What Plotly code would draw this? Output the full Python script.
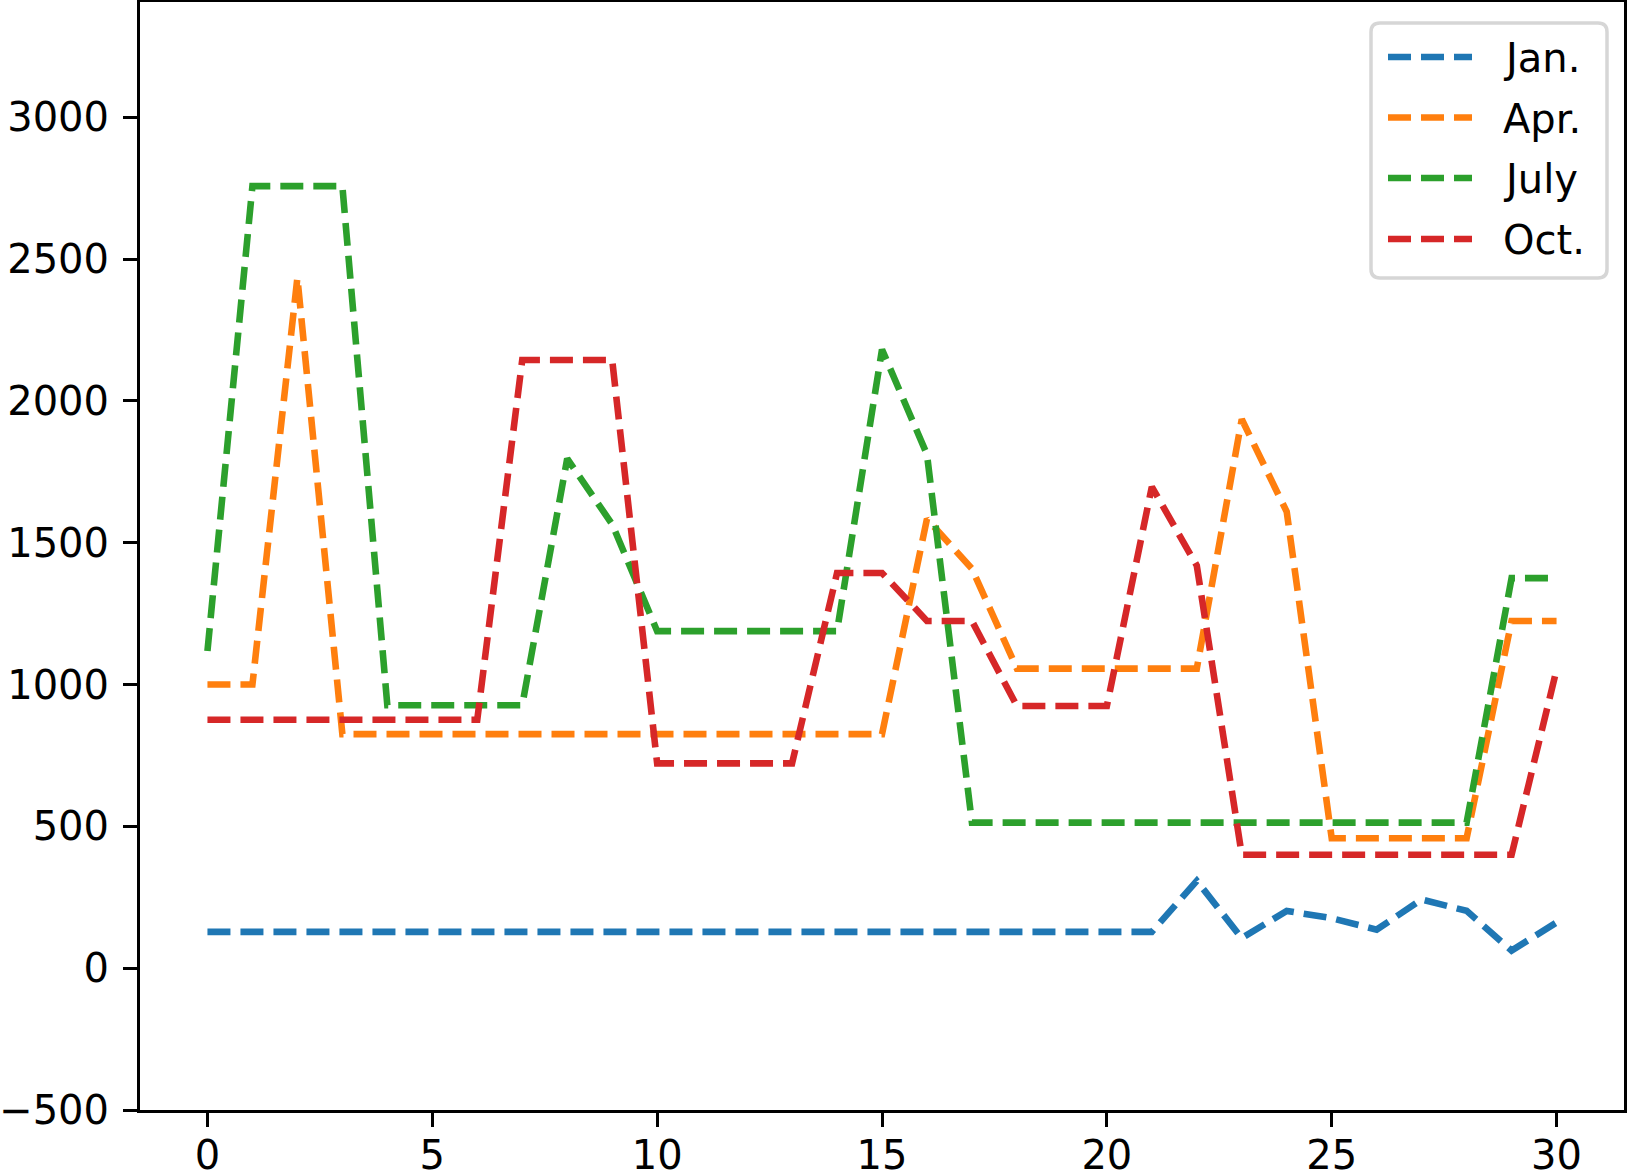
import plotly.graph_objects as go

days = list(range(31))
jan = [128]*21 + [128, 308, 106, 202, 176, 136, 242, 202, 62, 161]
apr = [1000, 1000, 2434] + [825]*13 + [1584, 1408] + [1056]*5 + [1935, 1609] + [458]*4 + [1224, 1224]
july = [1118, 2757, 2757, 2757] + [927]*4 + [1796, 1565] + [1188]*5 + [2181, 1811] + [513]*12 + [1375, 1375]
octo = [876]*7 + [2144]*3 + [722]*4 + [1393, 1393, 1224, 1224] + [924]*3 + [1697, 1419] + [400]*7 + [1052]

names = ["Jan.", "Apr.", "July", "Oct."]
colors = ["#1f77b4", "#ff7f0e", "#2ca02c", "#d62728"]
values = [jan, apr, july, octo]

xticks = [0, 5, 10, 15, 20, 25, 30]
yticks = [-500, 0, 500, 1000, 1500, 2000, 2500, 3000]
yticktext = ["\u2212500", "0", "500", "1000", "1500", "2000", "2500", "3000"]

W, H = 1630, 1172
ML, MR, MT, MB = 140, 6, 2, 62
PW, PH = W - ML - MR, H - MT - MB


def px(x):
    return (x - ML) / PW


def py(y):
    return (H - MB - y) / PH


DASH = "23px,10px"
LW = 6.6
font = dict(family="DejaVu Sans", size=40, color="black")

fig = go.Figure()
for name, vals, col in zip(names, values, colors):
    fig.add_trace(go.Scatter(x=days, y=vals, mode="lines", name=name, showlegend=False,
                             line=dict(color=col, width=LW, dash=DASH)))

# legend drawn in the upper-right corner (matplotlib style, rounded frame)
bx0, bx1, by0, by1, r = 1371, 1607, 23, 278, 9
path = (f"M {px(bx0 + r)},{py(by0)} L {px(bx1 - r)},{py(by0)} "
        f"Q {px(bx1)},{py(by0)} {px(bx1)},{py(by0 + r)} "
        f"L {px(bx1)},{py(by1 - r)} Q {px(bx1)},{py(by1)} {px(bx1 - r)},{py(by1)} "
        f"L {px(bx0 + r)},{py(by1)} Q {px(bx0)},{py(by1)} {px(bx0)},{py(by1 - r)} "
        f"L {px(bx0)},{py(by0 + r)} Q {px(bx0)},{py(by0)} {px(bx0 + r)},{py(by0)} Z")
shapes = [dict(type="path", xref="paper", yref="paper", path=path,
               fillcolor="rgba(255,255,255,0.8)", line=dict(color="#d6d6d6", width=3.5))]
annotations = []
row_y = [57, 117.5, 178, 239]
for name, col, ry in zip(names, colors, row_y):
    shapes.append(dict(type="line", xref="paper", yref="paper",
                       x0=px(1388), x1=px(1472), y0=py(ry), y1=py(ry),
                       line=dict(color=col, width=LW, dash=DASH)))
    annotations.append(dict(xref="paper", yref="paper", x=px(1501), y=py(ry + 1),
                            xanchor="left", yanchor="middle", text=name, showarrow=False,
                            font=font))

fig.update_layout(
    width=W, height=H,
    margin=dict(l=ML, r=MR, t=MT, b=MB),
    paper_bgcolor="white", plot_bgcolor="white",
    font=font,
    showlegend=False,
    shapes=shapes,
    annotations=annotations,
    xaxis=dict(range=[-1.5, 31.5], tickvals=xticks, ticks="outside", ticklen=14, tickwidth=3,
               tickcolor="black", showline=True, linecolor="black", linewidth=3, mirror=True,
               showgrid=False, zeroline=False, tickfont=font, automargin=False,
               ticklabelstandoff=-6),
    yaxis=dict(range=[-500, 3406], tickvals=yticks, ticktext=yticktext, ticks="outside",
               ticklen=14, tickwidth=3, tickcolor="black", showline=True, linecolor="black",
               linewidth=3, mirror=True, showgrid=False, zeroline=False, tickfont=font,
               automargin=False, ticklabelstandoff=6),
)
fig.write_html("out.html")
